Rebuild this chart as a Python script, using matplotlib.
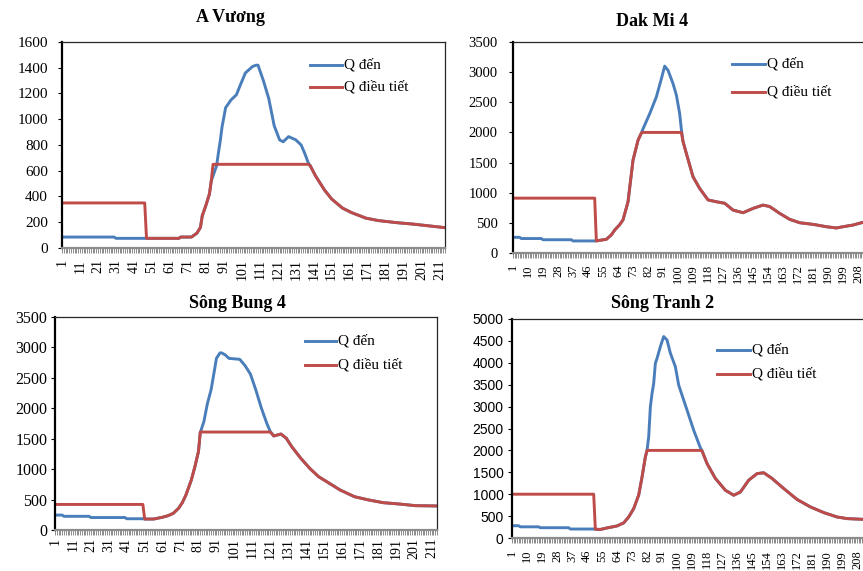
import matplotlib
matplotlib.use("Agg")
import matplotlib.pyplot as plt
from matplotlib.lines import Line2D
from matplotlib.ticker import FixedLocator

W, H = 863, 571
BLUE, RED = "#4A7EBB", "#BE4B48"
SERIF, SANS = "Liberation Serif", "Liberation Sans"
LABEL_DEN, LABEL_DT = "Q đến", "Q điều tiết"

# ── A Vương (hourly step, Q in m3/s) ──────────────────────────────────────────
av_x      = [1, 30, 31, 47, 48, 66, 67, 73, 76, 78, 79, 81, 83, 84, 85, 86, 87, 88, 89, 90,
             92, 95, 98, 100, 103, 107, 109, 110, 113, 116, 119, 122, 124, 127, 131, 134, 136, 138,
             139, 142, 147, 151, 157, 162, 170, 177, 187, 196, 205, 214]
av_den    = [85, 85, 75, 75, 75, 75, 85, 85, 115, 160, 250, 330, 420, 520, 560, 600, 640, 740, 830, 940,
             1090, 1150, 1190, 1260, 1360, 1410, 1420, 1420, 1300, 1160, 950, 840, 825, 865, 840, 800, 735, 660,
             640, 560, 450, 380, 310, 275, 232, 213, 197, 186, 172, 158]
av_dt     = [350, 350, 350, 350, 75, 75, 85, 85, 115, 160, 250, 330, 420, 520, 650, 650, 650, 650, 650, 650,
             650, 650, 650, 650, 650, 650, 650, 650, 650, 650, 650, 650, 650, 650, 650, 650, 650, 650,
             640, 560, 450, 380, 310, 275, 232, 213, 197, 186, 172, 158]

# ── Dak Mi 4 ──────────────────────────────────────────────────────────────────
dm_x      = [1, 5, 6, 18, 19, 36, 37, 50, 51, 53, 57, 60, 62, 65, 67, 70, 73, 76, 78, 79, 83, 87,
             90, 92, 94, 97, 99, 101, 102, 103, 105, 109, 113, 118, 123, 128, 133, 139, 145, 151,
             155, 161, 167, 173, 181, 189, 195, 199, 205, 210, 214]
dm_den    = [260, 260, 240, 240, 220, 220, 200, 200, 200, 210, 227, 300, 380, 470, 550, 850, 1540, 1870, 1990, 2060, 2310, 2590,
             2890, 3100, 3030, 2810, 2620, 2310, 2050, 1850, 1650, 1264, 1070, 880, 850, 825, 712, 668, 740, 795,
             770, 657, 558, 502, 475, 436, 415, 436, 464, 502, 520]
dm_dt     = [910, 910, 910, 910, 910, 910, 910, 910, 200, 210, 227, 300, 380, 470, 550, 850, 1540, 1870, 1990, 2000, 2000, 2000,
             2000, 2000, 2000, 2000, 2000, 2000, 2000, 1850, 1650, 1264, 1070, 880, 850, 825, 712, 668, 740, 795,
             770, 657, 558, 502, 475, 436, 415, 436, 464, 502, 520]

# ── Sông Bung 4 ───────────────────────────────────────────────────────────────
sb_x      = [1, 5, 6, 20, 21, 40, 41, 50, 51, 56, 61, 64, 67, 70, 72, 74, 77, 79, 81, 82, 84, 86,
             88, 90, 91, 93, 94, 96, 98, 104, 107, 110, 113, 116, 119, 121, 123, 127, 130, 133,
             138, 143, 148, 154, 160, 168, 176, 184, 193, 202, 214]
sb_den    = [245, 245, 225, 225, 205, 205, 185, 185, 180, 180, 210, 235, 275, 360, 450, 575, 820, 1040, 1290, 1600, 1780, 2080,
             2300, 2640, 2820, 2910, 2910, 2875, 2820, 2805, 2700, 2560, 2300, 2010, 1760, 1620, 1545, 1577, 1506, 1370,
             1180, 1014, 876, 767, 657, 547, 493, 449, 427, 400, 395]
sb_dt     = [420, 420, 420, 420, 420, 420, 420, 420, 180, 180, 210, 235, 275, 360, 450, 575, 820, 1040, 1290, 1610, 1610, 1610,
             1610, 1610, 1610, 1610, 1610, 1610, 1610, 1610, 1610, 1610, 1610, 1610, 1610, 1610, 1545, 1577, 1506, 1370,
             1180, 1014, 876, 767, 657, 547, 493, 449, 427, 400, 395]

# ── Sông Tranh 2 ──────────────────────────────────────────────────────────────
st_x      = [1, 5, 6, 17, 18, 35, 36, 50, 51, 54, 58, 64, 68, 71, 74, 77, 79, 81, 82, 83,
             84, 85, 86, 87, 88, 90, 92, 94, 96, 99, 101, 106, 110, 114, 115, 118, 123, 129, 134, 138,
             143, 148, 152, 157, 164, 172, 180, 188, 196, 202, 211, 214]
st_den    = [280, 280, 255, 255, 235, 235, 205, 205, 200, 195, 230, 275, 345, 480, 670, 980, 1390, 1850, 2000, 2310,
             2990, 3300, 3530, 3990, 4100, 4370, 4600, 4520, 4220, 3910, 3490, 2920, 2460, 2060, 1990, 1700, 1360, 1090, 976, 1050,
             1320, 1470, 1490, 1360, 1130, 880, 710, 580, 480, 443, 427, 425]
st_dt     = [1000, 1000, 1000, 1000, 1000, 1000, 1000, 1000, 200, 195, 230, 275, 345, 480, 670, 980, 1390, 1850, 2000, 2000,
             2000, 2000, 2000, 2000, 2000, 2000, 2000, 2000, 2000, 2000, 2000, 2000, 2000, 2000, 1990, 1700, 1360, 1090, 976, 1050,
             1320, 1470, 1490, 1360, 1130, 880, 710, 580, 480, 443, 427, 425]


def px_axes(fig, left, top, right, bottom):
    return fig.add_axes([left / W, 1 - bottom / H, (right - left) / W, (bottom - top) / H])


def draw_panel(fig, box, n_cat, x, q_den, q_dt, ymax, xstep, title, title_xy, leg, fs_y, fs_x,
               ypad, xpad, yfamily=SERIF):
    left, top, spacing, bottom = box
    right = left + (n_cat - 1) * spacing
    ax = px_axes(fig, left, top, right, bottom)
    ax.plot(x, q_den, color=BLUE, lw=2.1, solid_joinstyle="round")
    ax.plot(x, q_dt, color=RED, lw=2.1, solid_joinstyle="round")
    ax.set_xlim(1, n_cat)
    ax.set_ylim(0, ymax)

    # y axis
    ystep = 200 if ymax <= 1600 else 500
    ax.set_yticks(range(0, ymax + 1, ystep))
    ax.tick_params(axis="y", length=3, width=0.8, color="black", pad=ypad, labelsize=fs_y)
    for lb in ax.get_yticklabels():
        lb.set_family(yfamily)

    # category axis: a tick for every hour, label every xstep
    labels = list(range(1, n_cat + 1, xstep))
    ax.xaxis.set_major_locator(FixedLocator(labels))
    ax.xaxis.set_minor_locator(FixedLocator(range(1, n_cat + 1)))
    ax.set_xticklabels([str(v) for v in labels], rotation=90, family=SERIF, fontsize=fs_x, va="top")
    ax.tick_params(axis="x", which="both", length=3.5, width=0.7, color="#8c8c8c", pad=xpad)

    for side in ("top", "right"):
        ax.spines[side].set_color("#262626")
        ax.spines[side].set_linewidth(0.9)
    ax.spines["left"].set_color("black")
    ax.spines["left"].set_linewidth(1.6)
    ax.spines["bottom"].set_color("#8c8c8c")
    ax.spines["bottom"].set_linewidth(1.6)

    fig.text(title_xy[0] / W, 1 - title_xy[1] / H, title, family=SERIF, weight="bold",
             fontsize=13, ha="center", va="center")

    # legend: line sample followed by label
    lx0, lx1, y_den, y_dt = leg
    for yy, col, lab in ((y_den, BLUE, LABEL_DEN), (y_dt, RED, LABEL_DT)):
        fig.add_artist(Line2D([lx0 / W, lx1 / W], [1 - yy / H, 1 - yy / H], color=col, lw=2.1,
                              transform=fig.transFigure))
        fig.text((lx1 + 2) / W, 1 - yy / H, lab, family=SERIF, fontsize=11, ha="left", va="center")
    return ax


fig = plt.figure(figsize=(W / 100, H / 100), dpi=100)
fig.patch.set_facecolor("white")

draw_panel(fig, (62, 42, (445 - 62) / 213, 248), 214, av_x, av_den, av_dt, 1600, 10,
           "A Vương", (230, 18), (310, 342, 65, 87), 11, 10, 7, 4.5)
draw_panel(fig, (513, 42, 1.667, 253), 216, dm_x, dm_den, dm_dt, 3500, 9,
           "Dak Mi 4", (652, 21), (732, 765, 64, 92), 10.5, 9, 8, 4.5)
draw_panel(fig, (55, 317, (437 - 55) / 213, 530), 214, sb_x, sb_den, sb_dt, 3500, 10,
           "Sông Bung 4", (237, 303), (305, 336, 341, 365), 11.5, 10, 2.5, 2)
draw_panel(fig, (512, 319, 1.667, 538), 216, st_x, st_den, st_dt, 5000, 9,
           "Sông Tranh 2", (663, 303), (717, 750, 350, 374), 10, 9, 3, 5, yfamily=SANS)

fig.savefig("out.png", dpi=100)
